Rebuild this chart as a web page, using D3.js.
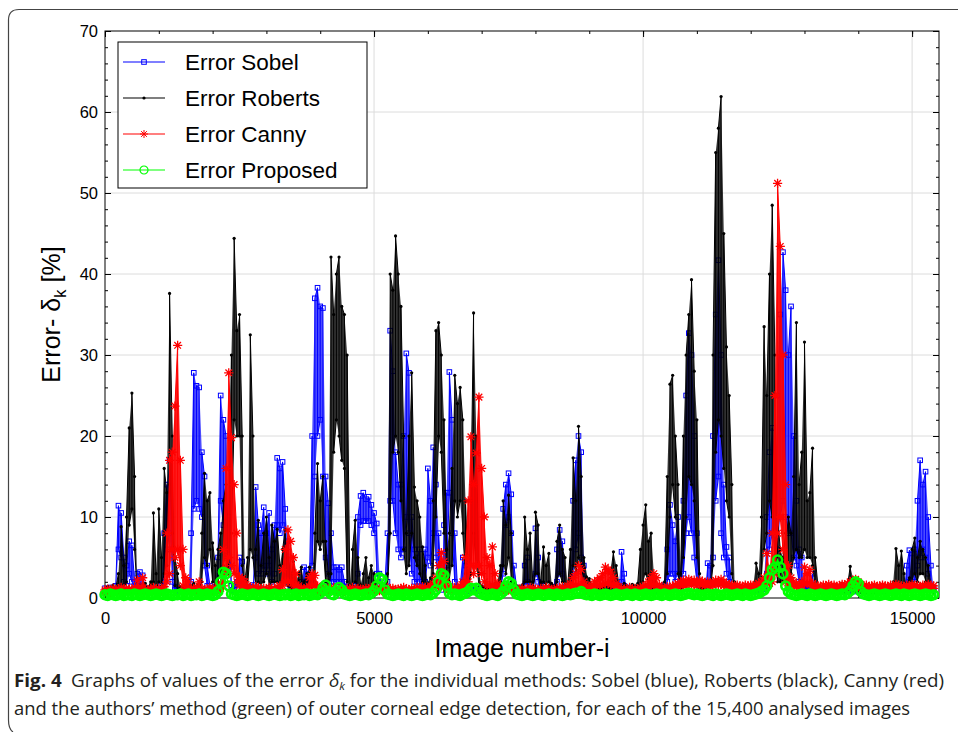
<!DOCTYPE html>
<html>
<head>
<meta charset="utf-8">
<script src="https://cdn.jsdelivr.net/npm/d3@7"></script>
<style>
  body { margin: 0; background: #fff; }
  svg { display: block; font-family: "Liberation Sans", Arial, sans-serif; }
</style>
</head>
<body>
<svg id="chart" width="958" height="732"></svg>
<script>
// one bin every STEP image numbers (image 0 .. 15400); for the dense methods each bin
// holds the highest and the lowest error seen in it
const STEP = 50;

const sobelHigh = [
  1.2, 1.0, 1.3, 1.1, 1.5, 11.4, 10.5, 5, 4, 7,
  6.5, 2, 3, 3.2, 2.8, 1.2, 1.0, 1.1, 1.3, 1.0,
  1.2, 1.5, 8, 14, 17, 6, 1.4, 1.2, 1.0, 1.1,
  1.3, 1.2, 8, 27.8, 26.2, 26, 18, 15, 4, 1.5,
  1.2, 1.4, 5, 25, 22, 20, 10, 1.5, 1.3, 2,
  5, 4.5, 1.5, 1.2, 1.4, 1.6, 13.7, 9, 8, 11.2,
  8, 10.5, 6, 9, 17.3, 16, 16.8, 11, 7, 1.5,
  1.3, 1.2, 1.4, 2, 3.8, 3.5, 2, 20, 37, 38.3,
  36, 35.8, 15, 11.7, 8, 3.8, 3.8, 3.5, 3.8, 2,
  1.4, 1.2, 1.3, 1.5, 10, 12.6, 13, 12.2, 12.5, 11.5,
  10.5, 9.2, 3, 1.4, 1.2, 8, 33, 28, 18, 14,
  14, 20, 30.2, 27.8, 10, 6, 5, 6, 1.5, 6,
  16, 12, 18.6, 14, 8, 1.5, 9, 13, 27.9, 22,
  8, 1.4, 1.3, 5, 4, 1.2, 1.1, 1.3, 1.2, 1.0,
  1.1, 1.3, 1.2, 1.0, 1.1, 1.2, 1.3, 1.5, 11, 14,
  15.4, 12.8, 4, 1.3, 1.2, 1.1, 4, 5, 1.4, 1.2,
  8.6, 5, 1.3, 1.5, 1.2, 1.1, 1.3, 1.4, 6, 8.4,
  7, 1.4, 1.3, 1.5, 12, 17, 20, 18, 4, 1.3,
  1.2, 1.1, 1.0, 1.2, 1.1, 1.3, 1.2, 1.0, 1.1, 1.2,
  1.3, 1.4, 5.7, 3, 1.3, 1.2, 1.1, 1.0, 1.2, 1.3,
  1.2, 1.1, 1.3, 1.2, 1.0, 1.1, 1.2, 1.4, 1.6, 6,
  11.5, 9, 7, 10, 1.5, 12, 25, 32.7, 30, 20,
  8, 1.5, 1.3, 1.4, 4.3, 4, 20, 35, 41.7, 30,
  14, 6.3, 5, 1.4, 1.2, 1.1, 1.0, 1.2, 1.1, 1.3,
  1.2, 1.1, 1.0, 1.2, 1.3, 1.5, 10, 18, 21, 14,
  25, 35, 42.7, 38, 30, 36, 20, 12, 6, 5,
  1.5, 1.3, 1.4, 3, 1.3, 1.2, 1.1, 1.0, 1.2, 1.1,
  1.3, 1.2, 1.0, 1.1, 1.2, 1.3, 1.1, 1.0, 1.2, 1.1,
  1.3, 1.2, 1.1, 1.0, 1.2, 1.1, 1.3, 1.2, 1.0, 1.1,
  1.2, 1.3, 1.1, 1.2, 1.4, 1.2, 1.3, 1.5, 4, 5.9,
  5.5, 6, 12, 17, 14, 15.6, 10, 4, 1.3
];

const sobelLow = [
  0.9, 0.8, 1.0, 0.9, 1.0, 6, 5, 2, 1.5, 3,
  2, 1.2, 1.5, 2, 1.5, 0.9, 0.8, 0.9, 1.0, 0.8,
  0.9, 1.0, 2, 6, 8, 2, 1.0, 0.9, 0.8, 0.9,
  1.0, 0.9, 2, 11, 12, 11, 10, 4, 1.5, 1.0,
  0.9, 1.0, 1.5, 12, 9, 9, 4, 1.0, 1.0, 1.2,
  2, 1.5, 1.0, 0.9, 1.0, 1.1, 5, 3, 3, 4,
  3, 4, 2, 3, 9, 8, 9, 4, 2, 1.0,
  1.0, 0.9, 1.0, 1.2, 2, 2, 1.2, 4, 15, 20,
  22, 15, 5, 3, 2, 2, 2, 2, 2, 1.2,
  1.0, 0.9, 1.0, 1.0, 3, 9, 9.5, 9.5, 9.5, 9,
  8, 3, 1.5, 1.0, 0.9, 2, 12, 12, 8, 6,
  5, 6, 10, 8, 3, 2, 2, 2, 1.0, 2,
  5, 4, 8, 5, 2, 1.0, 2, 4, 13, 8,
  2, 1.0, 1.0, 2, 2, 0.9, 0.8, 1.0, 0.9, 0.8,
  0.8, 1.0, 0.9, 0.8, 0.8, 0.9, 1.0, 1.1, 3, 9,
  10, 8, 1.5, 1.0, 0.9, 0.8, 1.5, 2, 1.0, 0.9,
  3, 2, 1.0, 1.1, 0.9, 0.8, 1.0, 1.0, 2, 3,
  3, 1.0, 1.0, 1.1, 3, 6, 8, 5, 1.5, 1.0,
  0.9, 0.8, 0.8, 0.9, 0.8, 1.0, 0.9, 0.8, 0.8, 0.9,
  1.0, 1.0, 2, 1.5, 1.0, 0.9, 0.8, 0.8, 0.9, 1.0,
  0.9, 0.8, 1.0, 0.9, 0.8, 0.8, 0.9, 1.0, 1.2, 2,
  3, 3, 2, 3, 1.0, 3, 8, 10, 8, 5,
  2, 1.0, 1.0, 1.0, 2, 2, 5, 12, 15, 8,
  5, 3, 2, 1.0, 0.9, 0.8, 0.8, 0.9, 0.8, 1.0,
  0.9, 0.8, 0.8, 0.9, 1.0, 1.1, 3, 6, 8, 5,
  6, 10, 12, 10, 8, 8, 5, 4, 2, 2,
  1.1, 1.0, 1.0, 1.5, 1.0, 0.9, 0.8, 0.8, 0.9, 0.8,
  1.0, 0.9, 0.8, 0.8, 0.9, 1.0, 0.8, 0.8, 0.9, 0.8,
  1.0, 0.9, 0.8, 0.8, 0.9, 0.8, 1.0, 0.9, 0.8, 0.8,
  0.9, 1.0, 0.8, 0.9, 1.0, 0.9, 1.0, 1.1, 1.5, 2,
  2, 2, 4, 5, 6, 5, 3, 1.5, 1.0
];

const robertsHigh = [
  1.0, 1.4, 0.9, 1.6, 1.2, 3, 8.8, 4, 10, 21,
  25.3, 15, 1.2, 1.5, 1.1, 1.8, 1.3, 2, 10.5, 3,
  11, 5, 16, 13, 37.6, 20, 5, 3, 1.4, 1.2,
  1.6, 1.3, 1.5, 1.8, 1.4, 2, 8, 15.4, 12, 13,
  6.8, 4, 6, 8, 12, 14, 9, 30, 44.4, 33,
  35, 20, 2, 5, 32.5, 20, 6, 9.6, 4, 8,
  10, 5, 9, 7, 8.5, 4, 6, 8.4, 5, 3,
  4.5, 2, 3, 3.8, 2, 3, 3.8, 2.5, 8, 16.6,
  12, 15, 7, 3, 42.1, 35, 40, 42.1, 36, 35,
  30, 1.5, 6, 9.6, 5, 1.6, 3, 5, 2.5, 4,
  3, 1.5, 1.3, 1.8, 1.4, 3, 40, 38, 44.7, 40,
  36, 20, 8, 20, 27.8, 13.7, 12, 10, 6.3, 4,
  1.8, 2.5, 12, 33, 34, 30, 22, 6, 8, 16,
  27.5, 24, 26, 22, 12, 3, 12, 35.2, 20, 3,
  1.5, 1.3, 1.6, 1.2, 1.4, 1.8, 1.5, 4, 12, 9,
  12.7, 8, 2, 1.5, 1.3, 1.6, 10, 6, 8, 2,
  10.6, 9, 2, 6.3, 4, 5.5, 1.8, 1.5, 7, 9,
  6, 5, 1.6, 6, 17.3, 12, 21.2, 15, 5, 2.6,
  2.4, 1.5, 1.3, 1.6, 1.2, 1.4, 1.8, 1.5, 3, 5.7,
  4, 1.6, 1.4, 1.8, 1.5, 1.3, 1.7, 1.5, 1.8, 6,
  9, 11.5, 7, 8, 3, 1.5, 1.3, 1.6, 2, 15,
  26.4, 27.5, 20, 14, 3, 20, 30, 35, 39.3, 28,
  22, 3, 1.5, 1.8, 1.4, 1.6, 30, 55, 58, 61.9,
  45, 31, 25, 14, 2, 1.5, 1.3, 1.2, 1.4, 1.1,
  1.3, 1.6, 4.3, 3, 10, 33.5, 25, 40, 48.5, 30,
  10, 6, 5, 8, 10, 8, 15, 34, 14, 18,
  31.6, 12, 13, 18.5, 5, 1.5, 1.3, 1.6, 1.2, 1.4,
  1.5, 1.3, 1.6, 1.4, 1.8, 1.2, 1.5, 3.9, 2.5, 1.4,
  1.6, 1.3, 1.5, 1.2, 1.4, 1.3, 1.1, 1.5, 1.2, 1.4,
  1.3, 1.5, 1.6, 2, 6.1, 4, 5.8, 3, 1.5, 2.5,
  6, 7.4, 5, 7, 6, 5, 4, 1.5, 1.2
];

const robertsLow = [
  0.6, 0.8, 0.5, 0.9, 0.7, 1.0, 1.5, 1.2, 2, 9,
  11, 6, 0.7, 0.8, 0.6, 0.9, 0.7, 1.0, 2, 1.0,
  2, 1.5, 3, 4, 14, 8, 1.5, 1.0, 0.8, 0.7,
  0.9, 0.7, 0.8, 1.0, 0.8, 1.0, 2, 5, 4, 6,
  2, 1.5, 2, 3, 4, 5, 3, 8, 22, 20,
  20, 4, 1.0, 1.5, 6, 5, 1.5, 2, 1.5, 2,
  3, 1.5, 2, 2, 2, 1.5, 2, 2, 1.5, 1.0,
  1.5, 1.0, 1.0, 1.5, 1.0, 1.2, 1.5, 1.0, 2, 7,
  6, 7, 2, 1.0, 3, 18, 22, 20, 17, 16,
  2, 0.8, 1.5, 2, 1.5, 0.9, 1.0, 1.5, 1.0, 1.2,
  1.0, 0.8, 0.7, 0.9, 0.8, 1.0, 8, 18, 20, 18,
  12, 6, 3, 4, 8, 5, 4, 3, 2, 1.5,
  0.9, 1.0, 3, 10, 20, 18, 8, 2, 2, 4,
  12, 10, 12, 8, 3, 1.0, 3, 8, 4, 1.0,
  0.8, 0.7, 0.9, 0.6, 0.8, 1.0, 0.8, 2, 4, 3,
  5, 2, 1.0, 0.8, 0.7, 0.9, 2, 2, 2, 1.0,
  3, 3, 1.0, 2, 1.5, 2, 1.0, 0.8, 2, 3,
  2, 1.5, 0.9, 1.5, 4, 3, 5, 3, 1.5, 1.2,
  1.2, 0.8, 0.7, 0.9, 0.6, 0.8, 1.0, 0.8, 1.2, 2,
  1.5, 0.9, 0.8, 1.0, 0.8, 0.7, 0.9, 0.8, 1.0, 1.5,
  2, 3, 2, 2, 1.2, 0.8, 0.7, 0.9, 1.0, 3,
  10, 14, 10, 3, 1.2, 5, 10, 15, 14, 12,
  5, 1.2, 0.8, 1.0, 0.8, 0.9, 4, 18, 22, 20,
  16, 12, 10, 3, 1.0, 0.8, 0.7, 0.6, 0.8, 0.6,
  0.7, 0.9, 1.5, 1.2, 2, 6, 8, 12, 10, 5,
  2, 2, 2, 2, 3, 3, 5, 6, 5, 5,
  6, 5, 5, 4, 1.5, 0.8, 0.7, 0.9, 0.6, 0.8,
  0.8, 0.7, 0.9, 0.8, 1.0, 0.6, 0.8, 1.2, 1.0, 0.8,
  0.9, 0.7, 0.8, 0.6, 0.8, 0.7, 0.6, 0.8, 0.6, 0.8,
  0.7, 0.8, 0.9, 1.0, 1.5, 1.5, 1.5, 1.2, 0.8, 1.0,
  2, 3, 2, 3, 3, 2, 1.5, 0.8, 0.6
];

const cannyHigh = [
  1.0, 1.1, 0.9, 1.2, 1.0, 1.1, 1.3, 1.0, 1.2, 1.1,
  1.0, 1.3, 2.2, 1.2, 2.5, 1.1, 1.0, 1.2, 1.3, 1.1,
  1.2, 1.0, 1.4, 8, 17, 18, 23.7, 31.2, 17, 6,
  2.5, 2, 1.2, 1.1, 1.3, 2, 1.2, 1.0, 1.1, 1.3,
  1.2, 1.1, 1.4, 1.8, 6, 16, 27.8, 19.8, 14, 8,
  2.6, 2.4, 2, 1.5, 1.3, 1.2, 1.4, 1.3, 1.1, 1.2,
  1.0, 1.3, 1.2, 1.1, 1.4, 1.5, 3.5, 6, 8.4, 7,
  5, 3, 1.5, 1.2, 1.1, 1.3, 2.5, 3, 2.8, 1.5,
  1.2, 1.1, 1.0, 1.2, 1.1, 1.3, 1.0, 1.2, 1.1, 1.0,
  1.2, 1.1, 1.3, 1.0, 1.2, 1.1, 1.0, 1.2, 1.1, 1.3,
  1.2, 1.0, 1.1, 1.2, 1.0, 1.3, 1.1, 1.2, 1.0, 1.1,
  1.2, 1.3, 1.1, 1.0, 1.2, 1.1, 1.3, 1.2, 1.4, 1.3,
  1.2, 1.5, 1.8, 2.5, 4, 5.6, 4.5, 2, 1.4, 1.2,
  1.3, 1.2, 1.5, 2, 5, 12, 19.9, 14, 17.9, 24.8,
  16, 10, 5, 4, 6.3, 3, 1.8, 1.5, 1.3, 1.2,
  1.3, 1.1, 1.2, 1.0, 1.1, 1.2, 1.0, 1.1, 1.3, 1.2,
  1.1, 1.0, 1.2, 1.1, 1.3, 1.2, 1.0, 1.1, 1.2, 1.3,
  1.4, 1.2, 1.5, 1.8, 2.5, 3, 4, 3.5, 2, 1.5,
  1.3, 1.6, 2, 2.2, 2.5, 3, 3.8, 3.5, 3.2, 2.5,
  1.8, 1.4, 1.2, 1.1, 1.2, 1.3, 1.1, 1.2, 1.0, 1.3,
  1.4, 1.6, 2, 2.5, 3, 2.5, 1.6, 1.3, 1.2, 1.4,
  1.3, 1.5, 1.6, 1.8, 2.0, 2.2, 2.0, 2.3, 2.1, 2.2,
  2.0, 2.2, 2.1, 1.9, 2.0, 1.8, 2.0, 2.2, 2.1, 2.3,
  2.0, 1.8, 1.7, 1.6, 1.5, 1.6, 1.5, 1.4, 1.6, 1.5,
  1.6, 1.5, 1.7, 1.8, 2, 2.5, 5.5, 3, 8, 25,
  51.2, 43.4, 30, 14, 4, 2.5, 2, 1.8, 1.6, 2,
  3.8, 3, 3.5, 1.8, 1.6, 1.5, 1.4, 1.6, 1.5, 1.7,
  1.5, 1.6, 1.4, 1.5, 1.7, 1.6, 1.8, 2, 2.2, 2.3,
  2, 1.7, 1.5, 1.6, 1.4, 1.5, 1.6, 1.4, 1.5, 1.6,
  1.5, 1.4, 1.6, 1.5, 1.7, 1.6, 1.5, 1.4, 1.6, 1.5,
  1.7, 1.6, 1.5, 1.4, 1.6, 1.5, 1.7, 1.6, 1.5
];

const cannyLow = [
  0.8, 0.9, 0.7, 0.9, 0.8, 0.9, 1.0, 0.8, 0.9, 0.9,
  0.8, 1.0, 1.2, 0.9, 1.2, 0.9, 0.8, 0.9, 1.0, 0.9,
  0.9, 0.8, 1.0, 2, 3, 6, 5, 6, 4, 1.5,
  1.2, 1.2, 0.9, 0.9, 1.0, 1.2, 0.9, 0.8, 0.9, 1.0,
  0.9, 0.9, 1.0, 1.2, 1.5, 3, 5, 4, 3, 2,
  1.5, 1.4, 1.2, 1.1, 1.0, 0.9, 1.0, 1.0, 0.9, 0.9,
  0.8, 1.0, 0.9, 0.9, 1.0, 1.1, 1.5, 2, 2, 2,
  1.5, 1.5, 1.1, 0.9, 0.9, 1.0, 1.4, 1.5, 1.5, 1.1,
  0.9, 0.9, 0.8, 0.9, 0.9, 1.0, 0.8, 0.9, 0.9, 0.8,
  0.9, 0.9, 1.0, 0.8, 0.9, 0.9, 0.8, 0.9, 0.9, 1.0,
  0.9, 0.8, 0.9, 0.9, 0.8, 1.0, 0.9, 0.9, 0.8, 0.9,
  0.9, 1.0, 0.9, 0.8, 0.9, 0.9, 1.0, 0.9, 1.1, 1.0,
  0.9, 1.1, 1.2, 1.4, 1.5, 1.5, 1.5, 1.2, 1.1, 0.9,
  1.0, 0.9, 1.1, 1.2, 1.5, 2, 4, 3, 4, 4,
  3, 2, 1.5, 1.5, 1.5, 1.2, 1.2, 1.1, 1.0, 0.9,
  1.0, 0.9, 0.9, 0.8, 0.9, 0.9, 0.8, 0.9, 1.0, 0.9,
  0.9, 0.8, 0.9, 0.9, 1.0, 0.9, 0.8, 0.9, 0.9, 1.0,
  1.1, 0.9, 1.1, 1.2, 1.4, 1.5, 1.5, 1.5, 1.3, 1.1,
  1.0, 1.2, 1.4, 1.5, 1.5, 1.6, 1.8, 1.8, 1.6, 1.5,
  1.3, 1.1, 0.9, 0.9, 0.9, 1.0, 0.9, 0.9, 0.8, 1.0,
  1.1, 1.2, 1.4, 1.5, 1.6, 1.5, 1.2, 1.0, 0.9, 1.1,
  1.0, 1.2, 1.3, 1.4, 1.5, 1.6, 1.5, 1.7, 1.6, 1.7,
  1.5, 1.7, 1.6, 1.5, 1.5, 1.4, 1.5, 1.7, 1.6, 1.7,
  1.5, 1.4, 1.3, 1.3, 1.2, 1.3, 1.2, 1.1, 1.3, 1.2,
  1.3, 1.2, 1.3, 1.4, 1.5, 1.6, 2, 1.8, 2, 3,
  8, 10, 6, 2, 1.5, 1.6, 1.5, 1.4, 1.3, 1.5,
  1.8, 1.8, 1.8, 1.4, 1.3, 1.2, 1.1, 1.3, 1.2, 1.3,
  1.2, 1.3, 1.1, 1.2, 1.3, 1.3, 1.4, 1.5, 1.6, 1.7,
  1.5, 1.3, 1.2, 1.3, 1.1, 1.2, 1.3, 1.1, 1.2, 1.3,
  1.2, 1.1, 1.3, 1.2, 1.3, 1.3, 1.2, 1.1, 1.3, 1.2,
  1.3, 1.3, 1.2, 1.1, 1.3, 1.2, 1.3, 1.3, 1.2
];

const proposed = [
  0.4, 0.3, 0.5, 0.4, 0.3, 0.4, 0.5, 0.3, 0.4, 0.4,
  0.3, 0.5, 0.4, 0.3, 0.4, 0.5, 0.4, 0.3, 0.4, 0.5,
  0.4, 0.3, 0.4, 0.5, 0.4, 0.3, 0.4, 0.4, 0.5, 0.3,
  0.4, 0.5, 0.3, 0.4, 0.4, 0.5, 0.3, 0.4, 0.5, 0.4,
  0.3, 0.4, 0.8, 2, 3.2, 3, 1.5, 0.5, 0.4, 0.3,
  0.4, 0.5, 0.4, 0.3, 0.4, 0.5, 0.4, 0.3, 0.4, 0.5,
  0.4, 0.3, 0.4, 0.5, 0.4, 0.3, 0.4, 0.4, 0.5, 0.3,
  0.4, 0.5, 0.3, 0.4, 0.4, 0.5, 0.3, 0.4, 0.5, 0.4,
  0.6, 1.2, 1.6, 0.8, 0.5, 0.4, 0.9, 1.3, 1.0, 0.5,
  0.4, 0.3, 0.4, 0.5, 0.4, 0.3, 0.4, 0.5, 0.4, 0.6,
  0.9, 1.5, 2.5, 2.3, 1, 0.5, 0.4, 0.3, 0.4, 0.5,
  0.4, 0.3, 0.5, 0.4, 0.3, 0.4, 0.5, 0.4, 0.3, 0.4,
  0.5, 0.4, 0.6, 1.0, 2, 3, 2.8, 1.5, 0.6, 0.4,
  0.5, 0.4, 0.3, 0.5, 0.6, 0.8, 1.2, 1.0, 1.2, 0.7,
  0.5, 0.4, 0.3, 0.4, 0.5, 0.4, 0.3, 0.5, 0.8, 1.5,
  2, 1.8, 1.0, 0.5, 0.4, 0.3, 0.4, 0.5, 0.4, 0.3,
  0.4, 0.5, 0.4, 0.3, 0.4, 0.5, 0.4, 0.3, 0.5, 0.4,
  0.3, 0.4, 0.5, 0.4, 0.5, 0.6, 0.6, 0.8, 0.5, 0.4,
  0.4, 0.3, 0.5, 0.4, 0.3, 0.4, 0.5, 0.4, 0.3, 0.4,
  0.5, 0.4, 0.3, 0.4, 0.5, 0.4, 0.3, 0.5, 0.4, 0.3,
  0.4, 0.5, 0.4, 0.3, 0.4, 0.5, 0.4, 0.3, 0.5, 0.4,
  0.3, 0.4, 0.5, 0.4, 0.3, 0.4, 0.5, 0.6, 0.5, 0.4,
  0.5, 0.4, 0.3, 0.4, 0.5, 0.4, 0.3, 0.5, 0.4, 0.3,
  0.4, 0.5, 0.4, 0.3, 0.4, 0.5, 0.4, 0.3, 0.5, 0.4,
  0.3, 0.4, 0.5, 0.6, 0.8, 1.0, 1.5, 2.5, 3.5, 3.8,
  4.7, 3.8, 3, 1.5, 0.8, 0.5, 0.4, 0.3, 0.4, 0.5,
  0.4, 0.3, 0.5, 0.4, 0.3, 0.4, 0.5, 0.4, 0.3, 0.4,
  0.5, 0.4, 0.3, 0.4, 0.5, 0.4, 0.6, 0.9, 1.5, 2,
  1.8, 0.8, 0.5, 0.4, 0.3, 0.4, 0.5, 0.4, 0.3, 0.4,
  0.5, 0.4, 0.3, 0.4, 0.5, 0.4, 0.3, 0.5, 0.4, 0.3,
  0.4, 0.5, 0.4, 0.3, 0.4, 0.5, 0.4, 0.3, 0.4
];

const seriesNames = ["Error Sobel", "Error Roberts", "Error Canny", "Error Proposed"];
const xTicks = [0, 5000, 10000, 15000];
const yTicks = [0, 10, 20, 30, 40, 50, 60, 70];
const xMinorTicks = d3.range(0, 15501, 1000);
const yMinorTicks = d3.range(0, 71, 2);

const series = [
  { name: seriesNames[0], high: sobelHigh, low: sobelLow, color: "#0000ff", marker: "square", fill: 0.7 },
  { name: seriesNames[1], high: robertsHigh, low: robertsLow, color: "#000000", marker: "dot", fill: 0.8 },
  { name: seriesNames[2], high: cannyHigh, low: cannyLow, color: "#ff0000", marker: "star", fill: 0.9 },
  { name: seriesNames[3], high: proposed, low: null, color: "#00ff00", marker: "circle", fill: 0 }
];

// the point sequence of a series: inside each bin the trace runs low->high or high->low
function tracePoints(s) {
  const pts = [];
  s.high.forEach((h, k) => {
    const xi = k * STEP;
    if (!s.low) { pts.push([xi, h]); return; }
    const l = s.low[k];
    if (k % 2 === 0) { pts.push([xi, l], [xi, h]); } else { pts.push([xi, h], [xi, l]); }
  });
  return pts;
}

const svg = d3.select("#chart");
const plotLeft = 105, plotRight = 939, plotTop = 31, plotBottom = 598;

const x = d3.scaleLinear().domain([0, 15500]).range([plotLeft, plotRight]);
const y = d3.scaleLinear().domain([0, 70]).range([plotBottom, plotTop]);

// figure frame
svg.append("path")
  .attr("d", "M958,9.5 H19 Q8.5,9.5 8.5,20 V720 Q8.5,729 13,732")
  .attr("fill", "none")
  .attr("stroke", "#444")
  .attr("stroke-width", 1.2);

// grid
const grid = svg.append("g").attr("stroke", "#dcdcdc").attr("stroke-width", 1);
grid.selectAll(".gx").data(xTicks.slice(1)).join("line")
  .attr("x1", (d) => x(d)).attr("x2", (d) => x(d))
  .attr("y1", plotTop).attr("y2", plotBottom);
grid.selectAll(".gy").data(yTicks.slice(1, -1)).join("line")
  .attr("x1", plotLeft).attr("x2", plotRight)
  .attr("y1", (d) => y(d)).attr("y2", (d) => y(d));

// axes, ticks inward on all four sides
function addAxis(axis, transform, labels) {
  const g = svg.append("g").attr("transform", transform).call(axis);
  g.select(".domain").remove();
  g.selectAll("text")
    .attr("font-size", 16.5)
    .attr("font-family", "Liberation Sans, Arial, sans-serif")
    .attr("fill", "#000");
  if (!labels) g.selectAll("text").remove();
  return g;
}

addAxis(d3.axisBottom(x).tickValues(xTicks).tickSize(-6).tickPadding(14).tickFormat(d3.format("d")), `translate(0,${plotBottom})`, true);
addAxis(d3.axisBottom(x).tickValues(xMinorTicks).tickSize(-3).tickFormat(""), `translate(0,${plotBottom})`, false);
addAxis(d3.axisTop(x).tickValues(xTicks).tickSize(-6).tickFormat(""), `translate(0,${plotTop})`, false);
addAxis(d3.axisTop(x).tickValues(xMinorTicks).tickSize(-3).tickFormat(""), `translate(0,${plotTop})`, false);
addAxis(d3.axisLeft(y).tickValues(yTicks).tickSize(-6).tickPadding(7), `translate(${plotLeft},0)`, true);
addAxis(d3.axisLeft(y).tickValues(yMinorTicks).tickSize(-3).tickFormat(""), `translate(${plotLeft},0)`, false);
addAxis(d3.axisRight(y).tickValues(yTicks).tickSize(-6).tickFormat(""), `translate(${plotRight},0)`, false);
addAxis(d3.axisRight(y).tickValues(yMinorTicks).tickSize(-3).tickFormat(""), `translate(${plotRight},0)`, false);

svg.append("rect")
  .attr("x", plotLeft).attr("y", plotTop)
  .attr("width", plotRight - plotLeft).attr("height", plotBottom - plotTop)
  .attr("fill", "none").attr("stroke", "#000").attr("stroke-width", 1);

// marker drawing
function drawMarker(sel, s, inLegend) {
  if (s.marker === "square") {
    sel.append("rect").attr("x", -2.3).attr("y", -2.3).attr("width", 4.6).attr("height", 4.6)
      .attr("fill", "none").attr("stroke", s.color).attr("stroke-width", 1);
  } else if (s.marker === "dot") {
    sel.append("circle").attr("r", 1.6).attr("fill", s.color);
  } else if (s.marker === "star") {
    const r = inLegend ? 4 : 4.6, d = r * 0.72;
    sel.append("path").attr("d", `M${-r},0H${r}M0,${-r}V${r}M${-d},${-d}L${d},${d}M${-d},${d}L${d},${-d}`)
      .attr("stroke", s.color).attr("stroke-width", inLegend ? 1 : 1.3).attr("fill", "none");
  } else {
    sel.append("circle").attr("r", inLegend ? 4 : 4.4).attr("fill", "none")
      .attr("stroke", s.color).attr("stroke-width", inLegend ? 1.2 : 2.6);
  }
}

const line = d3.line()
  .x((d) => x(d[0]))
  .y((d) => y(d[1]));

// the densely packed trace between bin minimum and maximum
const band = d3.area()
  .x((d, k) => x(k * STEP))
  .y0((d) => y(d[0]))
  .y1((d) => y(d[1]));

const plot = svg.append("g");
series.forEach((s) => {
  const pts = tracePoints(s);
  const g = plot.append("g");
  if (s.low) {
    g.append("path")
      .attr("d", band(s.high.map((h, k) => [s.low[k], h])))
      .attr("fill", s.color)
      .attr("fill-opacity", s.fill)
      .attr("stroke", "none");
  }
  g.append("path")
    .attr("d", line(pts))
    .attr("fill", "none")
    .attr("stroke", s.color)
    .attr("stroke-width", s.low ? 1 : 1.5);
  g.selectAll(".m").data(pts).join("g")
    .attr("transform", (d) => `translate(${x(d[0])},${y(d[1])})`)
    .each(function () { drawMarker(d3.select(this), s, false); });
});

// legend
const legend = svg.append("g");
legend.append("rect")
  .attr("x", 118).attr("y", 42).attr("width", 249).attr("height", 146)
  .attr("fill", "#fff").attr("stroke", "#000").attr("stroke-width", 1);
series.forEach((s, i) => {
  const ly = 62 + i * 36;
  legend.append("line")
    .attr("x1", 123).attr("x2", 165).attr("y1", ly).attr("y2", ly)
    .attr("stroke", s.color).attr("stroke-width", 1.2);
  const m = legend.append("g").attr("transform", `translate(144,${ly})`);
  drawMarker(m, s, true);
  legend.append("text")
    .attr("x", 185).attr("y", ly + 8)
    .attr("font-size", 22.5)
    .attr("fill", "#000")
    .text(s.name);
});

// axis titles
svg.append("text")
  .attr("x", (plotLeft + plotRight) / 2).attr("y", 657)
  .attr("text-anchor", "middle")
  .attr("font-size", 25)
  .text("Image number-i");

const ylab = svg.append("text")
  .attr("transform", `translate(60,${(plotTop + plotBottom) / 2}) rotate(-90)`)
  .attr("text-anchor", "middle")
  .attr("font-size", 25);
ylab.append("tspan").text("Error- δ");
ylab.append("tspan").attr("font-size", 17).attr("dy", 6).text("k");
ylab.append("tspan").attr("dy", -6).text(" [%]");

// caption
const capFont = "'Liberation Sans Narrow', 'Open Sans', sans-serif";
const cap1 = svg.append("text")
  .attr("x", 14).attr("y", 687)
  .attr("font-size", 18)
  .attr("font-family", capFont)
  .attr("fill", "#231f20")
  .attr("textLength", 930)
  .attr("lengthAdjust", "spacingAndGlyphs");
cap1.append("tspan").attr("font-weight", "bold").text("Fig. 4");
cap1.append("tspan").text("\u2002Graphs of values of the error ");
cap1.append("tspan").attr("font-style", "italic").text("δ");
cap1.append("tspan").attr("font-style", "italic").attr("font-size", 11).attr("dy", 3).text("k");
cap1.append("tspan").attr("dy", -3).text(" for the individual methods: Sobel (blue), Roberts (black), Canny (red)");

svg.append("text")
  .attr("x", 14).attr("y", 715)
  .attr("font-size", 18)
  .attr("font-family", capFont)
  .attr("fill", "#231f20")
  .attr("textLength", 896)
  .attr("lengthAdjust", "spacingAndGlyphs")
  .text("and the authors\u2019 method (green) of outer corneal edge detection, for each of the 15,400 analysed images");
</script>
</body>
</html>
